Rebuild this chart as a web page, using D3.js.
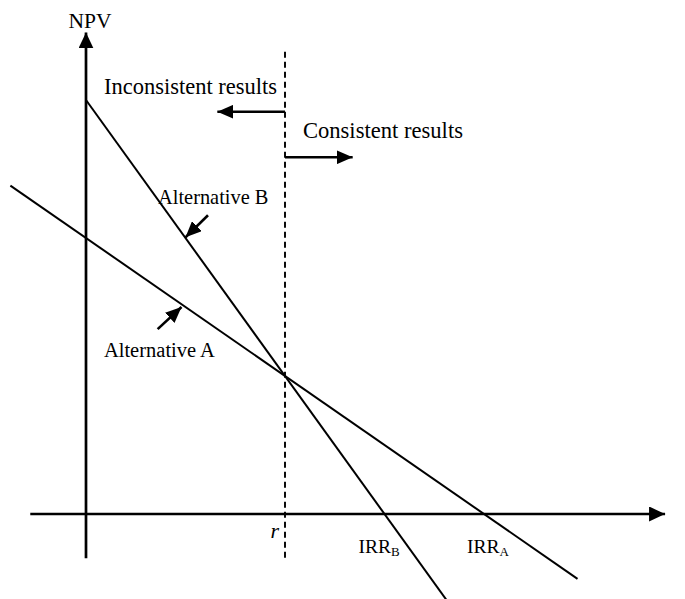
<!DOCTYPE html>
<html><head><meta charset="utf-8">
<script src="https://cdn.jsdelivr.net/npm/d3@7"></script>
<style>body{margin:0;background:#fff}svg{display:block}text{font-family:"Liberation Serif","Times New Roman",serif;fill:#000}</style>
</head><body><svg id="c" width="685" height="599"></svg>
<script>
// Data (rate in %, NPV in arbitrary units)
const alternativeA = [{rate:-3.8, npv:476}, {rate:24.7, npv:-94}];   // IRR_A = 20
const alternativeB = [{rate:0, npv:600}, {rate:18.1, npv:-124}];     // IRR_B = 15
const crossoverRate = 10;   // r
const irrA = 20, irrB = 15;
const xAxisExtent = [-2.8, 29.1];
const yAxisExtent = [-64, 698];
const dashedExtent = [-64, 670];
const labels = {npv:"NPV", inconsistent:"Inconsistent results", consistent:"Consistent results",
  altA:"Alternative A", altB:"Alternative B", r:"r"};

const svg = d3.select("#c");
const x = d3.scaleLinear().domain([0, 20]).range([86, 484]);
const y = d3.scaleLinear().domain([0, 600]).range([514, 100]);

const defs = svg.append("defs");
function marker(id, w, h){
  defs.append("marker").attr("id", id).attr("markerUnits","userSpaceOnUse")
    .attr("viewBox", `0 0 ${w} ${h}`).attr("refX", w).attr("refY", h/2)
    .attr("markerWidth", w).attr("markerHeight", h).attr("orient","auto")
    .append("path").attr("d", `M0,0L${w},${h/2}L0,${h}Z`).attr("fill","#000");
}
marker("ax", 16, 15);
marker("ar", 16, 14);

const line = d3.line().x(d => x(d.rate)).y(d => y(d.npv));

// axes
svg.append("line").attr("x1", x(xAxisExtent[0])).attr("x2", x(xAxisExtent[1]))
  .attr("y1", y(0)).attr("y2", y(0)).attr("stroke","#000").attr("stroke-width",2.7).attr("marker-end","url(#ax)");
svg.append("line").attr("x1", x(0)).attr("x2", x(0))
  .attr("y1", y(yAxisExtent[0])).attr("y2", y(yAxisExtent[1])).attr("stroke","#000").attr("stroke-width",2.7).attr("marker-end","url(#ax)");

// dashed r line
svg.append("line").attr("x1", x(crossoverRate)).attr("x2", x(crossoverRate))
  .attr("y1", y(dashedExtent[1])).attr("y2", y(dashedExtent[0]))
  .attr("stroke","#000").attr("stroke-width",1.9).attr("stroke-dasharray","6,4");

// NPV lines
svg.append("path").attr("d", line(alternativeA)).attr("fill","none").attr("stroke","#000").attr("stroke-width",2);
svg.append("path").attr("d", line(alternativeB)).attr("fill","none").attr("stroke","#000").attr("stroke-width",2);

// arrows
function arrow(x1,y1,x2,y2){
  svg.append("line").attr("x1",x1).attr("y1",y1).attr("x2",x2).attr("y2",y2)
    .attr("stroke","#000").attr("stroke-width",2.6).attr("marker-end","url(#ar)");
}
arrow(x(crossoverRate), y(583), x(6.6), y(583));
arrow(x(crossoverRate), y(517), x(13.4), y(517));
arrow(x(6.13), y(433), x(5.0), y(401));
arrow(x(3.6), y(268), x(4.8), y(300));

// texts
function txt(s, px, py, size, anchor, style){
  return svg.append("text").attr("x", px).attr("y", py).attr("font-size", size)
    .attr("text-anchor", anchor || "start").attr("font-style", style || "normal").text(s);
}
txt(labels.npv, x(0.2), y(704), 21.5, "middle");
txt(labels.inconsistent, x(0.9), y(609), 22.5);
txt(labels.consistent, x(10.9), y(545), 22.6);
txt(labels.altB, x(3.62), y(450), 20.4);
txt(labels.altA, x(0.9), y(228), 20.5);
txt(labels.r, x(crossoverRate) - 6, y(-35), 22, "end", "italic");
const tB = txt("IRR", x(irrB) - 26, y(-56), 19.5);
tB.append("tspan").attr("font-size", 13).attr("dy", 3).text("B");
const tA = txt("IRR", x(irrA) - 17, y(-56), 19.5);
tA.append("tspan").attr("font-size", 13).attr("dy", 3).text("A");
</script></body></html>
